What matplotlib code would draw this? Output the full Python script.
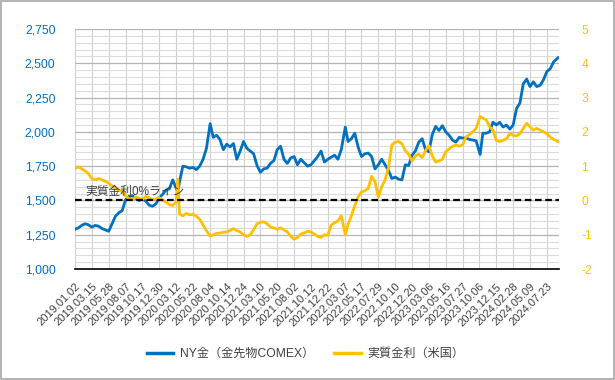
import matplotlib.pyplot as plt
import numpy as np
from matplotlib.patches import Rectangle
from matplotlib.ticker import MultipleLocator

plt.rcParams['font.family'] = ['Liberation Sans', 'Noto Sans CJK JP']
plt.rcParams['axes.unicode_minus'] = False

# trading-day index of each reading (0 = 2019.01.02)
day = [0, 10, 20, 30, 40, 50, 60, 70, 80, 90,
       100, 110, 120, 130, 140, 150, 160, 170, 180, 190,
       200, 210, 220, 230, 240, 250, 260, 270, 280, 290,
       300, 305, 310, 320, 330, 340, 350, 360, 370, 380,
       390, 401, 410, 420, 430, 440, 450, 460, 470, 480,
       490, 500, 510, 520, 530, 540, 550, 560, 570, 580,
       590, 600, 610, 620, 630, 640, 650, 660, 670, 680,
       690, 700, 710, 720, 730, 740, 750, 760, 770, 780,
       790, 802, 810, 820, 830, 840, 850, 860, 870, 880,
       890, 900, 910, 920, 930, 940, 950, 960, 970, 980,
       990, 1000, 1010, 1020, 1030, 1040, 1050, 1060, 1070, 1080,
       1090, 1100, 1110, 1120, 1130, 1140, 1150, 1160, 1170, 1180,
       1190, 1202, 1210, 1220, 1230, 1240, 1250, 1260, 1270, 1280,
       1290, 1300, 1310, 1320, 1330, 1340, 1350, 1360, 1370, 1380,
       1390, 1400, 1410, 1420, 1433]

# NY金（金先物COMEX）, USD
gold = [1290, 1300, 1318, 1330, 1322, 1305, 1318, 1312, 1295, 1285,
        1275, 1330, 1385, 1410, 1425, 1505, 1525, 1535, 1515, 1500,
        1510, 1495, 1465, 1458, 1475, 1518, 1545, 1575, 1585, 1650,
        1590, 1560, 1635, 1750, 1745, 1735, 1740, 1725, 1750, 1800,
        1880, 2060, 1960, 1975, 1945, 1870, 1910, 1890, 1915, 1800,
        1860, 1930, 1880, 1860, 1840, 1755, 1705, 1730, 1735, 1770,
        1790, 1870, 1895, 1800, 1770, 1810, 1820, 1760, 1800, 1775,
        1750, 1760, 1790, 1820, 1860, 1780, 1800, 1815, 1830, 1800,
        1870, 2035, 1930, 1950, 1990, 1890, 1820, 1840, 1845, 1820,
        1730, 1760, 1800, 1760, 1720, 1660, 1670, 1655, 1650, 1760,
        1755, 1830, 1860, 1925, 1950, 1870, 1855, 1980, 2040, 2010,
        2045, 2000, 1975, 1940, 1925, 1960, 1955, 1955, 1945, 1940,
        1935, 1835, 1990, 1990, 2000, 2070, 2050, 2070, 2035, 2050,
        2020, 2050, 2170, 2210, 2350, 2385, 2330, 2365, 2330, 2340,
        2380, 2440, 2460, 2510, 2540]

# 実質金利（米国）, %
real = [0.93, 0.98, 0.92, 0.86, 0.78, 0.63, 0.60, 0.64, 0.60, 0.56,
        0.50, 0.42, 0.35, 0.30, 0.26, 0.14, 0.05, 0.02, 0.10, 0.06,
        0.03, 0.12, 0.08, 0.02, 0.05, 0.08, 0.00, -0.05, -0.12, -0.15,
        -0.05, 0.62, -0.40, -0.45, -0.38, -0.42, -0.40, -0.46, -0.55, -0.72,
        -0.88, -1.04, -1.00, -0.96, -0.95, -0.93, -0.92, -0.88, -0.82, -0.88,
        -0.92, -1.00, -1.05, -1.00, -0.85, -0.68, -0.64, -0.62, -0.68, -0.78,
        -0.80, -0.84, -0.80, -0.86, -0.92, -1.05, -1.13, -1.08, -0.98, -0.95,
        -0.90, -0.92, -0.98, -1.05, -1.08, -1.00, -1.02, -0.72, -0.65, -0.60,
        -0.45, -1.00, -0.70, -0.45, -0.15, 0.10, 0.25, 0.28, 0.35, 0.70,
        0.55, 0.10, 0.40, 0.60, 0.95, 1.62, 1.70, 1.72, 1.65, 1.45,
        1.35, 1.15, 1.30, 1.35, 1.25, 1.45, 1.60, 1.30, 1.12, 1.15,
        1.20, 1.42, 1.50, 1.58, 1.62, 1.58, 1.62, 1.85, 1.92, 2.00,
        2.10, 2.45, 2.40, 2.35, 2.15, 2.05, 1.75, 1.72, 1.75, 1.80,
        1.95, 1.90, 1.88, 1.95, 2.10, 2.25, 2.15, 2.05, 2.10, 2.05,
        2.00, 1.95, 1.85, 1.78, 1.72]

date_labels = ['2019.01.02', '2019.03.15', '2019.05.28', '2019.08.07', '2019.10.17',
               '2019.12.30', '2020.03.12', '2020.05.22', '2020.08.04', '2020.10.14',
               '2020.12.24', '2021.03.10', '2021.05.20', '2021.08.02', '2021.10.12',
               '2021.12.22', '2022.03.07', '2022.05.17', '2022.07.29', '2022.10.10',
               '2022.12.20', '2023.03.06', '2023.05.16', '2023.07.27', '2023.10.06',
               '2023.12.15', '2024.02.28', '2024.05.09', '2024.07.23']
label_step = 50

gold_ticks = [1000, 1250, 1500, 1750, 2000, 2250, 2500, 2750]
gold_tick_labels = ['1,000', '1,250', '1,500', '1,750', '2,000', '2,250', '2,500', '2,750']
rate_ticks = [-2, -1, 0, 1, 2, 3, 4, 5]

blue = '#0070C0'
yellow = '#FFC000'
text_gray = '#404040'

fig = plt.figure(figsize=(6.15, 3.8), dpi=100)
ax = fig.add_axes([75 / 615, 1 - 269 / 380, 484 / 615, 240 / 380])
ax2 = ax.twinx()

ax.plot(day, gold, color=blue, lw=2.0, zorder=3, label='NY金（金先物COMEX）')
ax2.plot(day, real, color=yellow, lw=2.0, zorder=3, label='実質金利（米国）')
ax2.axhline(0, color='black', lw=1.6, dashes=(3, 1.6), zorder=5)
ax2.text(30, 0.06, '実質金利0%ライン', color=text_gray, fontsize=8.5,
         va='bottom', ha='left', zorder=6)

ax.set_xlim(0, 1436)
ax.set_ylim(1000, 2750)
ax2.set_ylim(-2, 5)

ticks = np.arange(len(date_labels)) * label_step
ax.set_xticks(ticks)
ax.set_xticklabels(date_labels, rotation=45, ha='right', va='top',
                   rotation_mode='anchor', fontsize=8, color=text_gray)
ax.set_yticks(gold_ticks)
ax.set_yticklabels(gold_tick_labels, color=blue, fontsize=8.7)
ax.yaxis.set_minor_locator(MultipleLocator(50))
ax2.set_yticks(rate_ticks)
ax2.set_yticklabels([str(t) for t in rate_ticks], color=yellow, fontsize=8.7)

ax.tick_params(axis='y', length=0, pad=14)
ax.tick_params(axis='y', which='minor', length=0)
ax.tick_params(axis='x', length=0, pad=9)
ax2.tick_params(axis='y', length=0, pad=16)

ax.grid(axis='y', which='major', color='#b4b4b4', lw=0.9, zorder=0)
ax.grid(axis='y', which='minor', color='#dcdcdc', lw=0.8, zorder=0)
ax.grid(axis='x', which='major', color='#d0d0d0', lw=0.8, zorder=0)
ax.set_axisbelow(True)

for a in (ax, ax2):
    for s in ('top', 'left', 'right'):
        a.spines[s].set_visible(False)
ax2.spines['bottom'].set_visible(False)
ax.spines['bottom'].set_color('black')
ax.spines['bottom'].set_linewidth(1.2)

h1, l1 = ax.get_legend_handles_labels()
h2, l2 = ax2.get_legend_handles_labels()
leg = fig.legend(h1 + h2, l1 + l2, loc='center', bbox_to_anchor=(0.497, 0.068),
                 ncol=2, frameon=False, fontsize=8.7, handlelength=2.2,
                 columnspacing=1.6, handletextpad=0.6)
for t in leg.get_texts():
    t.set_color(text_gray)
for line in leg.get_lines():
    line.set_linewidth(2.5)

fig.patches.append(Rectangle((0.001, 0.002), 0.997, 0.995, transform=fig.transFigure,
                             fill=False, edgecolor='#a6a6a6', lw=1.2))

fig.savefig('out.png', dpi=100)
